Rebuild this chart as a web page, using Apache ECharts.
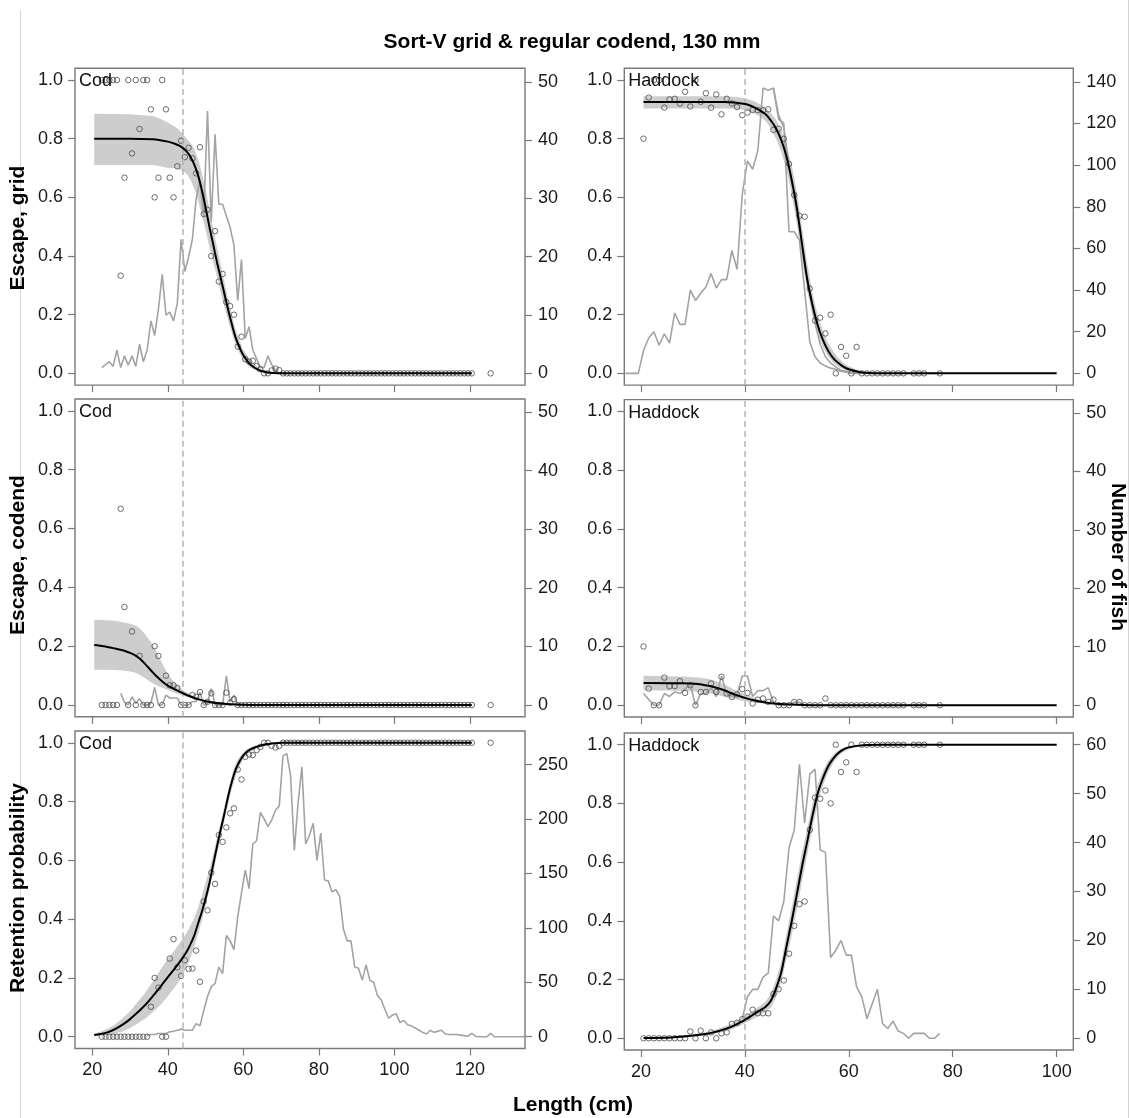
<!DOCTYPE html>
<html><head><meta charset="utf-8">
<script src="https://cdn.jsdelivr.net/npm/echarts@6/dist/echarts.min.js"></script>
<style>html,body{margin:0;padding:0;background:#fff}#c{width:1130px;height:1118px}</style>
</head><body><div id="c"></div>
<script>
// ---------------- DATA ----------------
var codLen = [22.5,23.5,24.5,25.5,26.5,27.5,28.5,29.5,30.5,31.5,
  32.5,33.5,34.5,35.5,36.5,37.5,38.5,39.5,40.5,41.5,
  42.5,43.5,44.5,45.5,46.5,47.5,48.5,49.5,50.5,51.5,
  52.5,53.5,54.5,55.5,56.5,57.5,58.5,59.5,60.5,61.5,
  62.5,63.5,64.5,65.5,66.5,67.5,68.5,69.5,70.5,71.5,
  72.5,73.5,74.5,75.5,76.5,77.5,78.5,79.5,80.5,81.5,
  82.5,83.5,84.5,85.5,86.5,87.5,88.5,89.5,90.5,91.5,
  92.5,93.5,94.5,95.5,96.5,97.5,98.5,99.5,100.5,101.5,
  102.5,103.5,104.5,105.5,106.5,107.5,108.5,109.5,110.5,111.5,
  112.5,113.5,114.5,115.5,116.5,117.5,118.5,119.5,120.5,125.5];
var codGridProp = [1,1,1,1,1,0.333,0.667,1,0.75,1,
  0.833,1,1,0.9,0.6,0.667,1,0.9,0.667,0.6,
  0.706,0.793,0.737,0.769,0.733,0.682,0.771,0.543,0.558,0.4,
  0.485,0.313,0.339,0.243,0.229,0.2,0.091,0.125,0.048,0.04,
  0.043,0.025,0.014,0,0,0.01,0.016,0.011,0,0,
  0,0,0,0,0,0,0,0,0,0, 0,0,0,0,0,0,0,0,0,0,
  0,0,0,0,0,0,0,0,0,0, 0,0,0,0,0,0,0,0,0,0, 0,0,0,0,0,0,0,0,0,0];
var codCodendProp = [0,0,0,0,0,0.667,0.333,0,0.25,0,
  0.167,0,0,0,0.2,0.167,0,0.1,0.067,0.067,
  0.058,0,0,0,0.034,0.028,0.044,0,0.011,0.04,
  0,0,0,0.042,0.008,0.02,0,0,0,0,
  0,0,0,0,0,0,0,0,0,0, 0,0,0,0,0,0,0,0,0,0, 0,0,0,0,0,0,0,0,0,0,
  0,0,0,0,0,0,0,0,0,0, 0,0,0,0,0,0,0,0,0,0, 0,0,0,0,0,0,0,0,0,0];
var codRetProp = [0,0,0,0,0,0,0,0,0,0,
  0,0,0,0.102,0.2,0.167,0,0,0.266,0.332,
  0.236,0.207,0.26,0.231,0.232,0.293,0.187,0.46,0.43,0.558,
  0.52,0.686,0.663,0.712,0.76,0.777,0.909,0.875,0.952,0.96,
  0.958,0.975,0.986,1,1,0.99,0.984,0.989,1,1,
  1,1,1,1,1,1,1,1,1,1, 1,1,1,1,1,1,1,1,1,1,
  1,1,1,1,1,1,1,1,1,1, 1,1,1,1,1,1,1,1,1,1, 1,1,1,1,1,1,1,1,1,1];

var hadLen = [20.5,21.5,22.5,23.5,24.5,25.5,26.5,27.5,28.5,29.5,
  30.5,31.5,32.5,33.5,34.5,35.5,36.5,37.5,38.5,39.5,
  40.5,41.5,42.5,43.5,44.5,45.5,46.5,47.5,48.5,49.5,
  50.5,51.5,52.5,53.5,54.5,55.5,56.5,57.5,58.5,59.5,
  60.5,61.5,62.5,63.5,64.5,65.5,66.5,67.5,68.5,69.5,
  70.5,72.5,73.5,74.5,77.5];
var hadGridProp = [0.8,0.94,1,1,0.906,0.934,0.936,0.92,0.96,0.91,
  1,0.926,0.955,0.906,0.951,0.883,0.936,0.92,0.908,0.88,
  0.889,0.898,0.897,0.897,0.9,0.83,0.834,0.8,0.714,0.608,
  0.537,0.534,0.289,0.18,0.19,0.136,0.2,0,0.09,0.06,
  0,0.09,0,0,0,0,0,0,0,0,
  0,0,0,0,0];
var hadCodendProp = [0.2,0.057,0,0,0.094,0.065,0.065,0.082,0.042,0.068,
  0,0.045,0.045,0.074,0.045,0.097,0.04,0.028,0.037,0.055,
  0.042,0.006,0.019,0.023,0.011,0.019,0,0,0,0.011,
  0.011,0,0,0,0,0.023,0,0,0,0,
  0,0,0,0,0,0,0,0,0,0,
  0,0,0,0,0];
var hadRetProp = [0,0,0,0,0,0,0,0,0,0.023,
  0,0.026,0,0.02,0,0.017,0.02,0.049,0.053,0.065,
  0.074,0.097,0.085,0.085,0.085,0.151,0.167,0.197,0.288,0.383,
  0.457,0.466,0.71,0.82,0.816,0.844,0.8,1,0.907,0.94,
  1,0.907,1,1,1,1,1,1,1,1,
  1,1,1,1,1];

// fitted curves and confidence bands
var codGridFitLen = [20.5,30,36,38,40,42,43,44,45,46,47,48,49,50,51,52,53,54,55,56,57,58,59,60,62,64,66,68,70,120.5];
var codGridFit = [0.8,0.8,0.798,0.795,0.79,0.782,0.776,0.768,0.756,0.738,0.712,0.675,0.625,0.565,0.5,0.44,0.38,0.325,0.27,0.215,0.165,0.12,0.088,0.062,0.028,0.012,0.004,0.001,0,0];
var codGridLo = [0.71,0.71,0.71,0.706,0.7,0.7,0.695,0.69,0.68,0.66,0.63,0.59,0.54,0.49,0.43,0.38,0.33,0.275,0.225,0.18,0.135,0.095,0.068,0.045,0.018,0.006,0.001,0,0,0];
var codGridHi = [0.885,0.883,0.877,0.868,0.855,0.84,0.83,0.815,0.8,0.785,0.765,0.73,0.685,0.625,0.56,0.495,0.43,0.37,0.31,0.25,0.195,0.148,0.11,0.08,0.042,0.019,0.007,0.002,0,0];

var hadGridFitLen = [20.5,36,38,40,41,42,43,44,45,46,47,48,49,50,51,52,53,54,55,56,57,58,59,60,62,64,66,100];
var hadGridFit = [0.925,0.925,0.923,0.918,0.913,0.905,0.895,0.883,0.862,0.835,0.795,0.74,0.66,0.565,0.44,0.32,0.235,0.165,0.115,0.078,0.052,0.035,0.022,0.014,0.005,0.001,0,0];
var hadGridLo = [0.903,0.903,0.902,0.898,0.893,0.885,0.874,0.86,0.835,0.8,0.755,0.695,0.61,0.51,0.39,0.28,0.2,0.135,0.09,0.058,0.036,0.022,0.013,0.007,0.002,0,0,0];
var hadGridHi = [0.945,0.945,0.943,0.938,0.933,0.926,0.917,0.905,0.888,0.865,0.83,0.78,0.71,0.62,0.5,0.375,0.275,0.2,0.145,0.105,0.075,0.052,0.035,0.024,0.01,0.003,0.001,0];

var codCodendFitLen = [20.5,23,26,28,29,30,31,32,33,34,35,36,37,38,39,40,42,44,46,48,50,54,58,62,120.5];
var codCodendFit = [0.204,0.2,0.192,0.186,0.182,0.177,0.171,0.163,0.152,0.139,0.125,0.111,0.098,0.086,0.075,0.066,0.052,0.04,0.029,0.02,0.013,0.005,0.0015,0,0];
var codCodendLo = [0.12,0.12,0.119,0.117,0.116,0.114,0.111,0.106,0.099,0.091,0.082,0.074,0.067,0.061,0.056,0.051,0.041,0.032,0.023,0.015,0.009,0.003,0.001,0,0];
var codCodendHi = [0.29,0.289,0.286,0.281,0.279,0.276,0.272,0.266,0.255,0.24,0.223,0.205,0.18,0.155,0.128,0.105,0.073,0.05,0.035,0.024,0.016,0.007,0.002,0,0];

var hadCodendFitLen = [20.5,28,31,33,34,35,36,37,38,39,40,42,44,46,50,54,100];
var hadCodendFit = [0.076,0.075,0.072,0.066,0.062,0.057,0.051,0.044,0.037,0.031,0.025,0.016,0.009,0.005,0.0015,0,0];
var hadCodendLo = [0.051,0.049,0.046,0.041,0.038,0.034,0.029,0.025,0.021,0.017,0.014,0.009,0.005,0.003,0.001,0,0];
var hadCodendHi = [0.1,0.098,0.094,0.089,0.085,0.079,0.071,0.062,0.053,0.045,0.037,0.024,0.014,0.008,0.002,0,0];

var codRetFitLen = [20.5,22,24,26,28,30,32,34,36,38,40,42,43,44,45,46,47,48,49,50,51,52,53,54,55,56,57,58,59,60,61,62,63,64,66,68,70,120.5];
var codRetFit = [0.006,0.009,0.015,0.026,0.041,0.06,0.083,0.108,0.138,0.17,0.203,0.235,0.252,0.27,0.29,0.315,0.345,0.385,0.425,0.47,0.522,0.585,0.646,0.705,0.76,0.82,0.87,0.91,0.937,0.957,0.97,0.978,0.984,0.988,0.995,0.998,1,1];
var codRetLo = [0.002,0.003,0.005,0.011,0.018,0.03,0.045,0.062,0.083,0.108,0.138,0.172,0.19,0.212,0.238,0.268,0.305,0.35,0.395,0.445,0.5,0.56,0.62,0.68,0.738,0.795,0.845,0.888,0.92,0.945,0.96,0.97,0.978,0.983,0.991,0.996,0.999,1];
var codRetHi = [0.011,0.016,0.027,0.042,0.063,0.087,0.118,0.15,0.188,0.227,0.265,0.298,0.316,0.335,0.355,0.378,0.405,0.44,0.48,0.525,0.568,0.62,0.675,0.73,0.785,0.84,0.89,0.93,0.952,0.968,0.978,0.985,0.99,0.993,0.998,1,1,1];

var hadRetFitLen = [20.5,26,30,33,35,37,39,40,41,42,43,44,45,46,47,48,49,50,51,52,53,54,55,56,57,58,59,60,62,64,66,70,100];
var hadRetFit = [0.001,0.003,0.009,0.016,0.025,0.036,0.053,0.063,0.074,0.085,0.096,0.107,0.128,0.17,0.225,0.312,0.398,0.49,0.585,0.67,0.757,0.833,0.885,0.926,0.953,0.972,0.984,0.991,0.997,0.999,1,1,1];
var hadRetLo = [0,0.001,0.005,0.011,0.018,0.027,0.042,0.051,0.06,0.07,0.08,0.09,0.105,0.14,0.19,0.27,0.35,0.44,0.535,0.625,0.715,0.8,0.86,0.905,0.938,0.962,0.976,0.985,0.994,0.998,0.999,1,1];
var hadRetHi = [0.002,0.006,0.014,0.022,0.033,0.046,0.065,0.076,0.088,0.1,0.112,0.125,0.152,0.2,0.26,0.355,0.445,0.54,0.635,0.715,0.797,0.865,0.91,0.945,0.967,0.982,0.99,0.995,0.999,1,1,1,1];

// numbers of fish (right axes)
var codGridNLen = [22.5,23.5,24.5,25.5,26.5,27.5,28.5,29.5,30.5,31.5,32.5,33.5,34.5,35.5,36.5,37.5,38.5,39.5,40.5,41.5,42.5,43.5,44.5,45.5,46.5,47.5,48.5,49.5,50.5,51.5,52.5,53.5,54.5,55.5,56.5,57.5,58.5,59.5,60.5,61.5,62.5,63.5,64.5,65.5,66.5,67.5,68.5,69.5,70.5,71.5];
var codGridN = [1,1.5,2,1.2,4,1,3,1.4,3,1.2,5,2,4,9,6.5,11,17,10,10.5,9,12,23,17.5,20,23,30,33,27,45,26,41,29,29,27,25,22,12.5,19.5,6,8,4,2.5,1,1,3,1.5,0.5,0,0,0];
var codCodendNLen = [27.5,28.5,29.5,30.5,31.5,32.5,33.5,34.5,35.5,36.5,37.5,38.5,39.5,40.5,41.5,42.5,43.5,44.5,45.5,46.5,47.5,48.5,49.5,50.5,51.5,52.5,53.5,54.5,55.5,56.5,57.5,58.5,59.5,60.5];
var codCodendN = [2,0.5,0,1.4,0.3,1.1,0,0,0.3,3,0,0,1.7,1.2,1.2,1.2,0,0,0,0.6,0.6,2.2,0,0.3,2.8,0,0,0,5,0.5,1.7,0,0,0];
var codRetNLen = [34.5,35.5,36.5,37.5,38.5,39.5,40.5,41.5,42.5,43.5,44.5,45.5,46.5,47.5,48.5,49.5,50.5,51.5,52.5,53.5,54.5,55.5,56.5,57.5,58.5,59.5,60.5,61.5,62.5,63.5,64.5,65.5,66.5,67.5,68.5,69.5,70.5,71.5,72.5,73.5,74.5,75.5,76.5,77.5,78.5,79.5,80.5,81.5,82.5,83.5,84.5,85.5,86.5,87.5,88.5,89.5,90.5,91.5,92.5,93.5,94.5,95.5,96.5,97.5,98.5,99.5,100.5,101.5,102.5,103.5,104.5,105.5,106.5,107.5,108.5,109.5,110.5,111.5,112.5,113.5,114.5,115.5,116.5,117.5,118.5,119.5,120.5,121.5,122.5,123.5,124.5,125.5,126.5,127.5,128.5,129.5,130.5,131.5,132.5,133.5,134.5];
var codRetN = [1,2,2,3,3,3,4.5,5,6,7,6,6,6,12,10,24,37,46,49,64,58,93,88,80,110,132,153,136,177,180,206,200,193,199,208,212,258,260,240,171,215,248,177,185,196,162,187,144,143,133,135,129,99,88,88,64,63,52,66,52,50,38,34,25,17,20,21,13,15,11,10,8,6,4,2.5,6,4,5,6,2.5,2,2,2,1.5,1,0.5,3,0.5,0,0,0,3,0,0,0,0,0,0,0,0,0];

var hadGridNLen = [17,19.5,20.5,21.5,22.5,23.5,24.5,25.5,26.5,27.5,28.5,29.5,30.5,31.5,32.5,33.5,34.5,35.5,36.5,37.5,38.5,39.5,40.5,41.5,42.5,43.5,44.5,45.5,46.5,47.5,48.5,49.5,50.5,51.5,52.5,53.5,54.5,55.5,56.5,57.5,58.5,59.5,60.5,77.5];
var hadGridN = [0,0,11,17,20,13.5,19,14.5,29,23.5,23.5,40,35,38.5,41.5,48,41,45,45,59,50,86,102,98,107,137,136,137,122,120,68,68,64,40,15,8,5,3.5,2.5,2,1,0.5,0,0];
var hadGridN2Len = [45.5,46.5,47.5,48.5,49.5,50.5,51.5,52.5,53.5,54.5,55.5,56.5,57.5,58.5,59.5,60.5,62.5];
var hadGridN2 = [137,124,118,100,85,70,55,38,24,14,8,5,3,1.5,1,0.5,0];
var hadCodendNLen = [20.5,21.5,22.5,23.5,24.5,25.5,26.5,27.5,28.5,29.5,30.5,31.5,32.5,33.5,34.5,35.5,36.5,37.5,38.5,39.5,40.5,41.5,42.5,43.5,44.5,45.5,46.5,47.5,48.5,49.5,50.5,51.5,52.5,77.5];
var hadCodendN = [2,1,0,0,2,1.5,2.3,2,2.8,3.6,0,2,2,3,1.5,5,2,1.5,1.8,5,5,1.5,2.5,2.5,3,0.5,0,0,0,0.5,0.5,0,0,0];
var hadRetNLen = [39.5,40.5,41.5,42.5,43.5,44.5,45.5,46.5,47.5,48.5,49.5,50.5,51.5,52.5,53.5,54.5,55.5,56.5,57.5,58.5,59.5,60.5,61.5,62.5,63.5,64.5,65.5,66.5,67.5,68.5,69.5,70.5,71.5,72.5,73.5,74.5,75.5,76.5,77.5];
var hadRetN = [4,8.5,10,10,12.5,13.3,25,24,28,39,42.5,56,44,54,55,38.5,38,16.5,18,20,17,17,10.5,8.5,4,7,10,3,2,3.5,1.5,1,0,1,1,1,0,0,1];

var mlsCod = 44, mlsHad = 40;   // dashed reference lengths
var codTicksX = [20,40,60,80,100,120];
var hadTicksX = [20,40,60,80,100];
var probTicks = [0,0.2,0.4,0.6,0.8,1.0];
var nTicksCodGrid = [0,10,20,30,40,50];
var nTicksHadGrid = [0,20,40,60,80,100,120,140];
var nTicksCodend = [0,10,20,30,40,50];
var nTicksCodRet = [0,50,100,150,200,250];
var nTicksHadRet = [0,10,20,30,40,50,60];

// ---------------- BUILD ----------------
function zip2(a, b) { var r = []; for (var i = 0; i < a.length; i++) r.push([a[i], b[i]]); return r; }
function zip3(a, b, c) { var r = []; for (var i = 0; i < a.length; i++) r.push([a[i], b[i], c[i]]); return r; }

var FONT = '"Liberation Sans", Arial, sans-serif';
var panels = [
  { name: 'Cod', grid: {left: 75, top: 68.3, width: 450, height: 316.8}, xr: [15.4, 134.6], nr: [-2.01, 52.31], xt: codTicksX, nt: nTicksCodGrid,
    len: codLen, p: codGridProp, fl: codGridFitLen, f: codGridFit, lo: codGridLo, hi: codGridHi, lines: [[codGridNLen, codGridN]], mls: mlsCod, bottom: false },
  { name: 'Haddock', grid: {left: 624.3, top: 68.3, width: 449, height: 316.8}, xr: [16.8, 103.2], nr: [-5.64, 146.5], xt: hadTicksX, nt: nTicksHadGrid,
    len: hadLen, p: hadGridProp, fl: hadGridFitLen, f: hadGridFit, lo: hadGridLo, hi: hadGridHi, lines: [[hadGridNLen, hadGridN], [hadGridN2Len, hadGridN2]], mls: mlsHad, bottom: false },
  { name: 'Cod', grid: {left: 75, top: 399, width: 450, height: 317.8}, xr: [15.4, 134.6], nr: [-2.01, 52.25], xt: codTicksX, nt: nTicksCodend,
    len: codLen, p: codCodendProp, fl: codCodendFitLen, f: codCodendFit, lo: codCodendLo, hi: codCodendHi, lines: [[codCodendNLen, codCodendN]], mls: mlsCod, bottom: false },
  { name: 'Haddock', grid: {left: 624.3, top: 399.6, width: 449, height: 317.4}, xr: [16.8, 103.2], nr: [-2.01, 52.25], xt: hadTicksX, nt: nTicksCodend,
    len: hadLen, p: hadCodendProp, fl: hadCodendFitLen, f: hadCodendFit, lo: hadCodendLo, hi: hadCodendHi, lines: [[hadCodendNLen, hadCodendN]], mls: mlsHad, bottom: false },
  { name: 'Cod', grid: {left: 75, top: 731, width: 450, height: 317.5}, xr: [15.4, 134.6], nr: [-10.8, 280.8], xt: codTicksX, nt: nTicksCodRet,
    len: codLen, p: codRetProp, fl: codRetFitLen, f: codRetFit, lo: codRetLo, hi: codRetHi, lines: [[codRetNLen, codRetN]], mls: mlsCod, bottom: true },
  { name: 'Haddock', grid: {left: 624.3, top: 733, width: 449, height: 317}, xr: [16.8, 103.2], nr: [-2.4, 62.4], xt: hadTicksX, nt: nTicksHadRet,
    len: hadLen, p: hadRetProp, fl: hadRetFitLen, f: hadRetFit, lo: hadRetLo, hi: hadRetHi, lines: [[hadRetNLen, hadRetN]], mls: mlsHad, bottom: true }
];

var AXC = '#7a7a7a', LBL = '#1a1a1a';
var grids = [], xAxes = [], yAxes = [], series = [];
var graphics = [
  { type: 'line', silent: true, z: -10, shape: { x1: 20.5, y1: 10, x2: 20.5, y2: 1118 }, style: { stroke: '#d4d4d4', lineWidth: 1 } },
  { type: 'line', silent: true, z: -10, shape: { x1: 1128.5, y1: 0, x2: 1128.5, y2: 1118 }, style: { stroke: '#d4d4d4', lineWidth: 1 } }
];

panels.forEach(function (P, i) {
  grids.push(Object.assign({ show: true, borderColor: AXC, borderWidth: 1.4, backgroundColor: 'transparent', containLabel: false, outerBoundsMode: 'none' }, P.grid));
  xAxes.push({ gridIndex: i, type: 'value', min: P.xr[0], max: P.xr[1], position: 'bottom',
    axisLine: { show: false, onZero: false }, splitLine: { show: false },
    axisTick: { show: true, inside: false, length: 7, customValues: P.xt, lineStyle: { color: AXC, width: 1.2 } },
    axisLabel: { show: P.bottom, customValues: P.xt, fontSize: 18, fontFamily: FONT, color: LBL, margin: 13 } });
  yAxes.push({ gridIndex: i, type: 'value', min: -0.04, max: 1.04, position: 'left',
    axisLine: { show: false, onZero: false }, splitLine: { show: false },
    axisTick: { show: true, inside: false, length: 7, customValues: probTicks, lineStyle: { color: AXC, width: 1.2 } },
    axisLabel: { show: true, customValues: probTicks, fontSize: 18, fontFamily: FONT, color: LBL, margin: 12,
      formatter: function (v) { return Number(v).toFixed(1); } } });
  yAxes.push({ gridIndex: i, type: 'value', min: P.nr[0], max: P.nr[1], position: 'right',
    axisLine: { show: false, onZero: false }, splitLine: { show: false },
    axisTick: { show: true, inside: false, length: 7, customValues: P.nt, lineStyle: { color: AXC, width: 1.2 } },
    axisLabel: { show: true, customValues: P.nt, fontSize: 18, fontFamily: FONT, color: LBL, margin: 13,
      formatter: function (v) { return String(Math.round(v)); } } });

  var yl = 2 * i, yr = 2 * i + 1;
  var band = zip3(P.fl, P.lo, P.hi);
  series.push({ type: 'custom', xAxisIndex: i, yAxisIndex: yl, silent: true, z: 1, data: band,
    encode: { x: 0, y: [1, 2] },
    renderItem: (function (b) { return function (params, api) {
      if (params.dataIndex !== 0) return null;
      var up = b.map(function (d) { return api.coord([d[0], d[2]]); });
      var dn = b.map(function (d) { return api.coord([d[0], d[1]]); }).reverse();
      return { type: 'polygon', shape: { points: up.concat(dn) }, style: { fill: '#cdcdcd' } };
    }; })(band) });
  series.push({ type: 'line', xAxisIndex: i, yAxisIndex: yl, data: [], silent: true, z: 2,
    markLine: { silent: true, symbol: ['none', 'none'], label: { show: false }, animation: false,
      lineStyle: { type: [6, 4], color: '#b4b4b4', width: 1.5 }, data: [{ xAxis: P.mls }] } });
  P.lines.forEach(function (L) {
    series.push({ type: 'line', xAxisIndex: i, yAxisIndex: yr, data: zip2(L[0], L[1]), showSymbol: false, symbol: 'none',
      silent: true, z: 3, lineStyle: { color: '#a3a3a3', width: 1.6 } });
  });
  series.push({ type: 'scatter', xAxisIndex: i, yAxisIndex: yl, data: zip2(P.len, P.p), symbol: 'circle', symbolSize: 5.5,
    silent: true, z: 4, itemStyle: { color: 'rgba(255,255,255,0)', borderColor: '#4a4a4a', borderWidth: 1 } });
  series.push({ type: 'line', xAxisIndex: i, yAxisIndex: yl, data: zip2(P.fl, P.f), showSymbol: false, symbol: 'none',
    smooth: 0.3, silent: true, z: 5, lineStyle: { color: '#000', width: 2 } });

  graphics.push({ type: 'text', x: P.grid.left + 4, y: P.grid.top + 13, silent: true, z: 10,
    style: { text: P.name, font: '18px ' + FONT, fill: '#111', verticalAlign: 'middle', align: 'left' } });
});

var TF = 'bold 21px ' + FONT;
graphics.push(
  { type: 'text', x: 572, y: 42, silent: true, z: 10, style: { text: 'Sort-V grid & regular codend, 130 mm', font: TF, fill: '#000', align: 'center', verticalAlign: 'middle' } },
  { type: 'text', x: 18, y: 228, rotation: Math.PI / 2, silent: true, z: 10, style: { text: 'Escape, grid', font: TF, fill: '#000', align: 'center', verticalAlign: 'middle' } },
  { type: 'text', x: 18, y: 555, rotation: Math.PI / 2, silent: true, z: 10, style: { text: 'Escape, codend', font: TF, fill: '#000', align: 'center', verticalAlign: 'middle' } },
  { type: 'text', x: 18, y: 888, rotation: Math.PI / 2, silent: true, z: 10, style: { text: 'Retention probability', font: TF, fill: '#000', align: 'center', verticalAlign: 'middle' } },
  { type: 'text', x: 1118, y: 557, rotation: -Math.PI / 2, silent: true, z: 10, style: { text: 'Number of fish', font: TF, fill: '#000', align: 'center', verticalAlign: 'middle' } },
  { type: 'text', x: 573, y: 1105, silent: true, z: 10, style: { text: 'Length (cm)', font: TF, fill: '#000', align: 'center', verticalAlign: 'middle' } }
);

var chart = echarts.init(document.getElementById('c'), null, { renderer: 'canvas' });
chart.setOption({ animation: false, backgroundColor: '#fff', grid: grids, xAxis: xAxes, yAxis: yAxes, series: series, graphic: graphics });
</script></body></html>
